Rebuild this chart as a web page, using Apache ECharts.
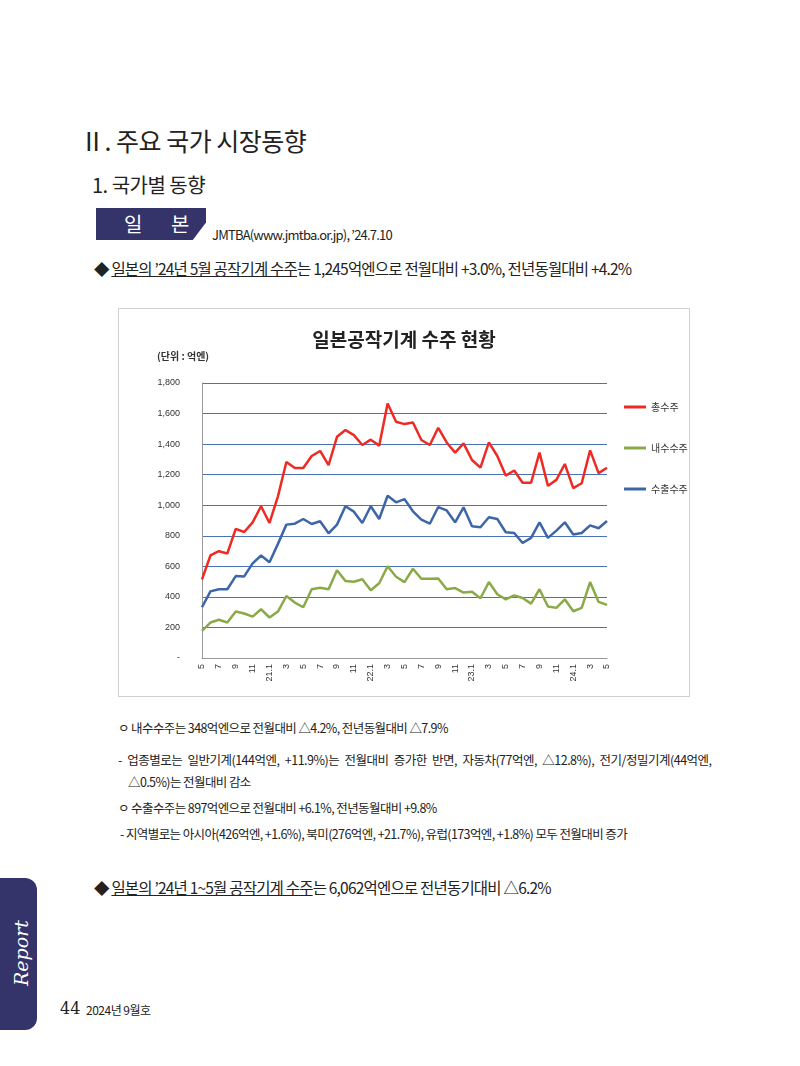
<!DOCTYPE html>
<html><head><meta charset="utf-8">
<script src="https://cdn.jsdelivr.net/npm/echarts@6/dist/echarts.min.js"></script>
<style>
body{margin:0;width:800px;height:1066px;position:relative;background:#fff;font-family:"Noto Sans CJK KR","Noto Sans",sans-serif;color:#222;overflow:hidden}
.a{position:absolute;white-space:nowrap}
u{text-decoration:underline}
</style></head><body>
<div class="a" style="left:80px;top:122px;font-size:25px;letter-spacing:-0.5px">Ⅱ. 주요 국가 시장동향</div>
<div class="a" style="left:92px;top:170px;font-size:20px;letter-spacing:-0.5px">1. 국가별 동향</div>
<div class="a" style="left:96px;top:208px;width:110px;height:32px;background:#34346a;clip-path:polygon(0 0,100% 0,100% 45%,88% 100%,0 100%);color:#fff;font-size:20px;line-height:32px;text-indent:28px;letter-spacing:12px">일 본</div>
<div class="a" style="left:212px;top:225px;font-size:13px;letter-spacing:-0.8px">JMTBA(www.jmtba.or.jp), ’24.7.10</div>
<div class="a" style="left:94px;top:257px;font-size:15.5px;letter-spacing:-0.8px">◆ <u>일본의 ’24년 5월 공작기계 수주</u>는 1,245억엔으로 전월대비 +3.0%, 전년동월대비 +4.2%</div>
<div id="c" class="a" style="left:118px;top:308px;width:570px;height:387px;border:1px solid #d0d0d0"></div>
<div class="a" style="left:118px;top:718px;font-size:12.5px;letter-spacing:-0.6px">ㅇ 내수수주는 348억엔으로 전월대비 △4.2%, 전년동월대비 △7.9%</div>
<div class="a" style="left:118px;top:750px;font-size:12.5px;letter-spacing:-0.5px;word-spacing:3px">- 업종별로는 일반기계(144억엔, +11.9%)는 전월대비 증가한 반면, 자동차(77억엔, △12.8%), 전기/정밀기계(44억엔,</div>
<div class="a" style="left:128px;top:772px;font-size:12.5px;letter-spacing:-0.6px">△0.5%)는 전월대비 감소</div>
<div class="a" style="left:118px;top:798px;font-size:12.5px;letter-spacing:-0.6px">ㅇ 수출수주는 897억엔으로 전월대비 +6.1%, 전년동월대비 +9.8%</div>
<div class="a" style="left:120px;top:824px;font-size:12.5px;letter-spacing:-0.6px">- 지역별로는 아시아(426억엔, +1.6%), 북미(276억엔, +21.7%), 유럽(173억엔, +1.8%) 모두 전월대비 증가</div>
<div class="a" style="left:94px;top:876px;font-size:15.5px;letter-spacing:-0.8px">◆ <u>일본의 ’24년 1~5월 공작기계 수주</u>는 6,062억엔으로 전년동기대비 △6.2%</div>
<div class="a" style="left:0;top:878px;width:37px;height:152px;background:#34346a;border-radius:0 12px 12px 0"></div>
<div class="a" style="left:-12px;top:942px;transform:rotate(-90deg);color:#fff;font-size:19px;font-style:italic;font-family:'DejaVu Serif',serif">Report</div>
<div class="a" style="left:60px;top:999px;font-size:16px;font-family:'DejaVu Serif',serif">44</div>
<div class="a" style="left:86px;top:1001px;font-size:12px;letter-spacing:-0.5px">2024년 9월호</div>
<script>
// 2020.5 ~ 2024.5 월별 (단위: 억엔)
const months = ['5','6','7','8','9','10','11','12','21.1','2','3','4','5','6','7','8','9','10','11','12','22.1','2','3','4','5','6','7','8','9','10','11','12','23.1','2','3','4','5','6','7','8','9','10','11','12','24.1','2','3','4','5']
const total = [515,671,699,684,845,825,888,993,884,1058,1283,1244,1244,1322,1355,1262,1448,1492,1459,1394,1429,1390,1666,1546,1531,1542,1427,1394,1507,1411,1344,1405,1296,1246,1411,1322,1194,1227,1147,1147,1344,1127,1166,1270,1112,1144,1359,1210,1245]
const domestic = [178,232,250,232,304,291,271,319,265,304,406,363,332,450,460,450,575,504,499,515,443,489,601,532,497,584,519,519,521,450,458,428,434,391,497,417,384,410,393,356,450,337,328,384,306,328,497,367,348]
const exportOrd = [332,436,450,450,536,534,619,671,627,747,873,879,910,877,895,816,873,993,958,884,993,910,1062,1019,1040,960,905,879,988,966,888,986,862,856,921,910,823,818,753,786,888,786,834,888,808,818,868,849,897]
const chart = echarts.init(document.getElementById('c'))
const ff = '"Noto Sans CJK KR",sans-serif'
const mk = (name, data, color) => ({ name, type:'line', data, symbol:'none', lineStyle:{ color, width:2.5 }, itemStyle:{ color } })
chart.setOption({
  animation:false,
  title:[
    { text:'일본공작기계 수주 현황', left:'center', top:16, textStyle:{ fontSize:19, fontWeight:'bold', color:'#222', fontFamily:ff } },
    { text:'(단위 : 억엔)', left:33, top:37, textStyle:{ fontSize:10, fontWeight:'bold', color:'#333', fontFamily:ff } }
  ],
  legend:{ orient:'vertical', left:500, top:88, itemGap:31, itemWidth:22, itemHeight:3, icon:'rect',
    textStyle:{ fontSize:10, color:'#333', fontFamily:ff }, data:['총수주','내수수주','수출수주'] },
  grid:{ left:83, right:82, top:74, bottom:38 },
  xAxis:{ type:'category', data:months, boundaryGap:false,
    axisLine:{ lineStyle:{ color:'#999' } }, axisTick:{ show:false },
    axisLabel:{ rotate:90, interval:1, fontSize:9, color:'#333', margin:6 } },
  yAxis:{ type:'value', min:0, max:1800, interval:200,
    axisLine:{ show:true, lineStyle:{ color:'#999' } },
    splitLine:{ lineStyle:{ color:'#4a72b8', width:1 } },
    axisLabel:{ fontSize:9, color:'#333', margin:22, formatter:v => v === 0 ? '-' : v.toLocaleString('en-US') } },
  series:[ mk('총수주', total, '#ee2a24'), mk('내수수주', domestic, '#8aaa48'), mk('수출수주', exportOrd, '#3d66a8') ]
})
</script>
</body></html>
